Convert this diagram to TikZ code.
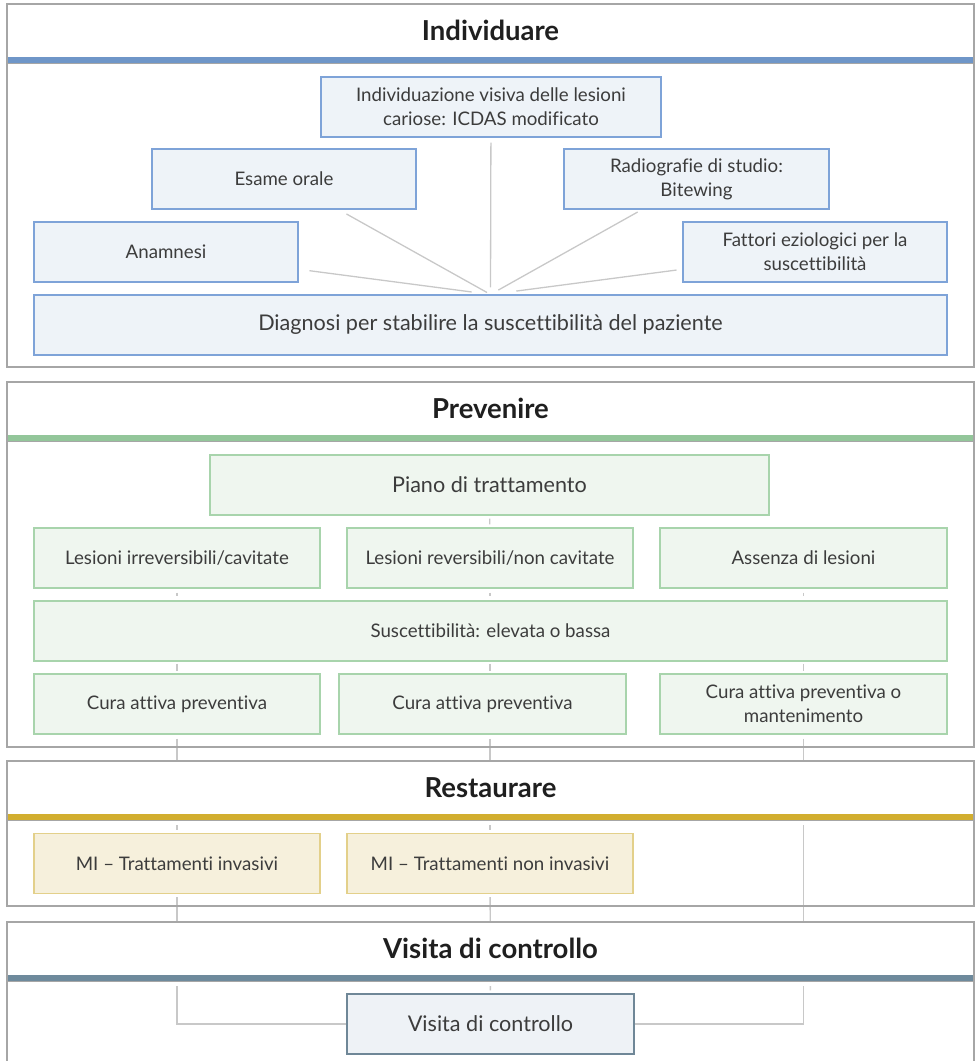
\documentclass[tikz,border=0pt]{standalone}
\usepackage{fontspec}
\setmainfont{Lato}[Ligatures=NoCommon]
\usetikzlibrary{calc}
\definecolor{frameline}{HTML}{A6A6A6}
\definecolor{linkgray}{HTML}{C8C8C8}
\definecolor{inktext}{HTML}{3C3C3C}
\definecolor{inktitle}{HTML}{1F1F1F}
\definecolor{bluebar}{HTML}{6F96C8}
\definecolor{blueline}{HTML}{7EA3D8}
\definecolor{bluefill}{HTML}{EEF3F8}
\definecolor{greenbar}{HTML}{93C69A}
\definecolor{greenline}{HTML}{A8D4AC}
\definecolor{greenfill}{HTML}{EFF6EF}
\definecolor{goldbar}{HTML}{D2AE2F}
\definecolor{goldline}{HTML}{E3D08A}
\definecolor{goldfill}{HTML}{F6F0DC}
\definecolor{slatebar}{HTML}{6E8A9C}
\definecolor{slateline}{HTML}{6F8797}
\definecolor{slatefill}{HTML}{EEF2F6}
\pgfdeclarelayer{background}
\pgfsetlayers{background,main}

\begin{document}
\begin{tikzpicture}[
		x=1pt, y=-1pt,
		card/.style={draw=#1line, fill=#1fill, line width=1.1pt, align=center,
				text=inktext, font=\fontsize{18.7}{24}\selectfont, inner sep=0pt,
				minimum height=60pt},
		wide/.style={font=\fontsize{21.6}{26}\selectfont},
		stage/.style={draw=frameline, line width=1.3pt},
		stagetitle/.style={font=\fontsize{27.5}{32}\selectfont\bfseries, text=inktitle},
		link/.style={draw=linkgray, line width=1.3pt},
	]
	\useasboundingbox (0,0) rectangle (978,1061);
	\clip (0,0) rectangle (978,1061);

	% Individuare
	\node[card=blue, minimum width=340pt] (visual) at (491,107)
	{Individuazione visiva delle lesioni\\cariose: ICDAS modificato};
	\node[card=blue, minimum width=264pt] (oral) at (284,179) {Esame orale};
	\node[card=blue, minimum width=265pt] (xray) at (696.5,179)
	{Radiografie di studio:\\Bitewing};
	\node[card=blue, minimum width=264pt] (history) at (166,252) {Anamnesi};
	\node[card=blue, minimum width=264pt] (factors) at (815,252)
	{Fattori eziologici per la\\suscettibilità};
	\node[card=blue, wide, minimum width=913pt] (diagnosis) at (490.5,325)
	{Diagnosi per stabilire la suscettibilità del paziente};

	% Prevenire
	\node[card=green, wide, minimum width=559pt] (plan) at (489.5,485)
	{Piano di trattamento};
	\node[card=green, minimum width=286pt] (irrev) at (177,558)
	{Lesioni irreversibili/cavitate};
	\node[card=green, minimum width=286pt] (rev) at (490,558)
	{Lesioni reversibili/non cavitate};
	\node[card=green, minimum width=287pt] (none) at (803.5,558)
	{Assenza di lesioni};
	\node[card=green, minimum width=913pt] (risk) at (490.5,631)
	{Suscettibilità: elevata o bassa};
	\node[card=green, minimum width=286pt] (careA) at (177,704)
	{Cura attiva preventiva};
	\node[card=green, minimum width=287pt] (careB) at (482.5,704)
	{Cura attiva preventiva};
	\node[card=green, minimum width=287pt] (careC) at (803.5,704)
	{Cura attiva preventiva o\\mantenimento};

	% Restaurare
	\node[card=gold, minimum width=286pt] (invasive) at (177,863.5)
	{MI -- Trattamenti invasivi};
	\node[card=gold, minimum width=286pt] (noninvasive) at (490,863.5)
	{MI -- Trattamenti non invasivi};

	% Visita di controllo
	\node[card=slate, wide, minimum width=287pt] (recall) at (490.5,1024)
	{Visita di controllo};

	\begin{pgfonlayer}{background}
		\draw[link, shorten <=5pt, shorten >=7pt] (visual) -- (diagnosis.north);
		\draw[link, shorten <=9pt, shorten >=4pt] (oral) -- (diagnosis.north);
		\draw[link, shorten <=5pt, shorten >=9pt] (xray) -- (diagnosis.north);
		\draw[link, shorten <=11pt, shorten >=19pt] (history) -- (diagnosis.north);
		\draw[link, shorten <=6pt, shorten >=26pt] (factors) -- (diagnosis.north);

		\draw[link, shorten <=3pt, shorten >=3pt] (plan) -- (rev);
		\draw[link, shorten <=4pt, shorten >=4pt] (irrev) -- (irrev |- risk.north);
		\draw[link, shorten <=4pt, shorten >=4pt] (rev) -- (rev |- risk.north);
		\draw[link, shorten <=4pt, shorten >=4pt] (none) -- (none |- risk.north);
		\draw[link, shorten <=2pt, shorten >=2pt] (irrev |- risk.south) -- (careA);
		\draw[link, shorten <=2pt, shorten >=2pt] (rev |- risk.south) -- (rev |- careB.north);
		\draw[link, shorten <=2pt, shorten >=2pt] (none |- risk.south) -- (careC);

		\draw[link, shorten <=4pt, shorten >=3pt] (careA) -- (invasive);
		\draw[link, shorten <=4pt, shorten >=3pt] (rev |- careB.south) -- (noninvasive);
		\draw[link, shorten <=4pt] (careC.south) |- (recall.east);
		\draw[link, shorten <=3pt] (invasive.south) |- (recall.west);
		\draw[link, shorten <=3pt, shorten >=3pt] (noninvasive) -- (recall);
	\end{pgfonlayer}

	% section frames with their headings
	\foreach \i/\top/\bot/\bar/\col/\name in {
			1/4/367/57/bluebar/Individuare,
			2/382/747/435/greenbar/Prevenire,
			3/761/906/814/goldbar/Restaurare,
			4/922/1080/975/slatebar/Visita di controllo}{
		\fill[white] (7,\top) rectangle (974,\bar+11);
		\fill[\col] (7,\bar) rectangle (974,\bar+6);
		\draw[frameline, line width=0.8pt] (7,\bar+6.5) -- (974,\bar+6.5);
		\draw[stage] (7,\top) rectangle (974,\bot);
		\node[stagetitle] (head\i) at (490.5,{(\top+\bar)/2}) {\name};
	}

\end{tikzpicture}
\end{document}
